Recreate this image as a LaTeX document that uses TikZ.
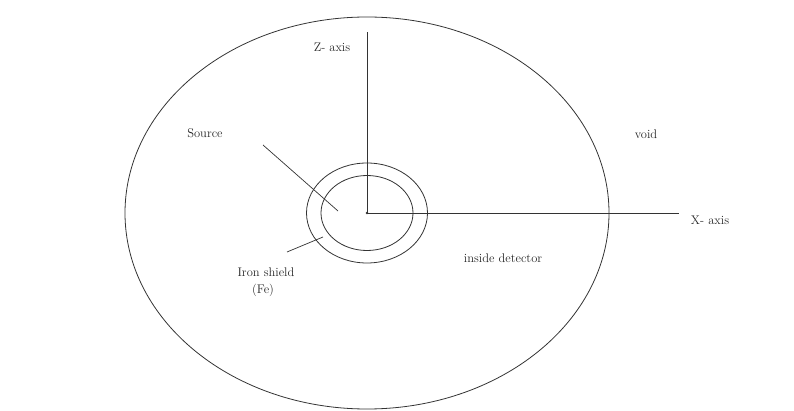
\documentclass[tikz,border=0pt]{standalone}
\usetikzlibrary{shapes.geometric}
\begin{document}
\begin{tikzpicture}[x=1pt,y=-1pt,
  ln/.style={draw=black!80,line width=0.8pt},
  lbl/.style={text=black!85,inner sep=0pt,font=\fontsize{12.5}{14}\selectfont}]
\useasboundingbox (0,0) rectangle (794,411);
\coordinate (O) at (367,213);
% outer detector
\node[ln,ellipse,minimum width=484pt,minimum height=392pt,inner sep=0pt] (det) at (O) {};
% iron shield rings
\node[ln,ellipse,minimum width=121pt,minimum height=100pt,inner sep=0pt] (shieldout) at (O) {};
\node[ln,ellipse,minimum width=92pt,minimum height=75pt,inner sep=0pt] (shieldin) at (O) {};
% axes
\coordinate (Ztop) at (367,32);
\coordinate (Xend) at (679,213);
\draw[ln] (O) -- (Ztop);
\draw[ln] (O) -- (Xend);
\fill[black!80] (O) circle (1.3pt);
% leaders
\coordinate (srcA) at (263,145);
\coordinate (srcB) at (338,211);
\draw[ln,line width=0.7pt] (srcA) -- (srcB);
\coordinate (feA) at (287,252);
\coordinate (feB) at (323,237);
\draw[ln,line width=0.7pt] (feA) -- (feB);
% labels
\node[lbl] (zlab) at (332,47) {Z- axis};
\node[lbl] (xlab) at (710,220) {X- axis};
\node[lbl] (srclab) at (205,133) {Source};
\node[lbl] (voidlab) at (646,134) {void};
\node[lbl] (inlab) at (503,258) {inside detector};
\node[lbl] (felab1) at (266,272) {Iron shield};
\node[lbl] (felab2) at (263,290) {(Fe)};
\end{tikzpicture}
\end{document}
